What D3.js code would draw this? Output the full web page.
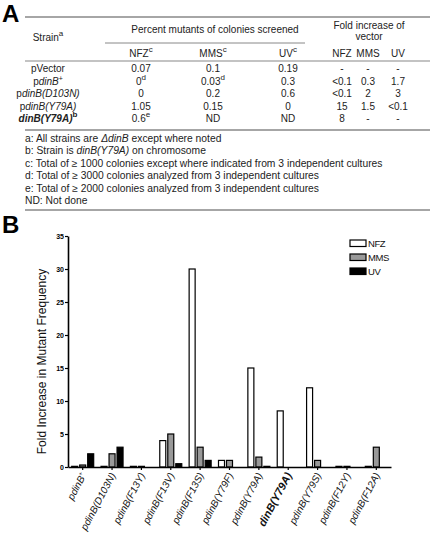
<!DOCTYPE html>
<html>
<head>
<meta charset="utf-8">
<script src="https://cdn.jsdelivr.net/npm/d3@7/dist/d3.min.js"></script>
<style>
  html, body { margin: 0; padding: 0; background: #fff; }
  svg { display: block; font-family: "Liberation Sans", Arial, Helvetica, sans-serif; }
</style>
</head>
<body>
<svg id="fig" width="430" height="539"></svg>
<script>
// ---------- Panel A data ----------
const tableStrains = ["pVector", "pdinB+", "pdinB(D103N)", "pdinB(Y79A)", "dinB(Y79A)"];
const tableStrainNotes = ["", "", "", "", "b"];
const pctNFZ = ["0.07", "0", "0", "1.05", "0.6"];
const pctNFZNotes = ["", "d", "", "", "e"];
const pctMMS = ["0.1", "0.03", "0.2", "0.15", "ND"];
const pctMMSNotes = ["", "d", "", "", ""];
const pctUV = ["0.19", "0.3", "0.6", "0", "ND"];
const foldNFZ = ["-", "<0.1", "<0.1", "15", "8"];
const foldMMS = ["-", "0.3", "2", "1.5", "-"];
const foldUV = ["-", "1.7", "3", "<0.1", "-"];
const footnotes = [
  "a: All strains are \u0394dinB except where noted",
  "b: Strain is dinB(Y79A) on chromosome",
  "c: Total of \u2265 1000 colonies except where indicated from 3 independent cultures",
  "d: Total of \u2265 3000 colonies analyzed from 3 independent cultures",
  "e: Total of \u2265 2000 colonies analyzed from 3 independent cultures",
  "ND: Not done"
];

// ---------- Panel B data ----------
const categories = ["pdinB+", "pdinB(D103N)", "pdinB(F13Y)", "pdinB(F13V)", "pdinB(F13S)",
  "pdinB(Y79F)", "pdinB(Y79A)", "dinB(Y79A)", "pdinB(Y79S)", "pdinB(F12Y)", "pdinB(F12A)"];
const seriesNames = ["NFZ", "MMS", "UV"];
const nfzValues = [0.1, 0.1, 0.1, 4, 30, 1, 15, 8.5, 12, 0.1, 0.1];
const mmsValues = [0.3, 2, 0.1, 5, 3, 1, 1.5, 0, 1, 0.1, 3];
const uvValues  = [2, 3, 0, 0.5, 1, 0, 0.1, 0, 0, 0, 0];
const yTicks = [0, 5, 10, 15, 20, 25, 30, 35];
const yTitle = "Fold Increase in Mutant Frequency";

const svg = d3.select("#fig");

// ---------- helpers ----------
function strainPieces(name, allItalic) {
  const pieces = [];
  let rest = name;
  let sup = "";
  if (rest.endsWith("+")) { sup = "+"; rest = rest.slice(0, -1); }
  if (rest.startsWith("pdinB")) {
    pieces.push({t: "p", it: allItalic});
    pieces.push({t: rest.slice(1), it: true});
  } else if (rest.startsWith("dinB")) {
    pieces.push({t: rest, it: true});
  } else {
    pieces.push({t: rest, it: allItalic});
  }
  if (sup) pieces.push({t: sup, it: allItalic, sup: true});
  return pieces;
}
function addPieces(textSel, pieces, supSize) {
  let wasSup = false;
  pieces.forEach(p => {
    const ts = textSel.append("tspan").text(p.t);
    if (p.it) ts.attr("font-style", "italic");
    if (p.sup) {
      ts.attr("font-size", supSize).attr("dy", -4); wasSup = true;
    } else if (wasSup) {
      ts.attr("dy", 4); wasSup = false;
    }
  });
}
function supText(g, x, y, main, note, opts) {
  opts = opts || {};
  const t = g.append("text").attr("x", x).attr("y", y)
    .attr("text-anchor", opts.anchor || "middle")
    .attr("font-size", opts.size || 10).attr("fill", "#222");
  if (opts.bold) t.attr("font-weight", "bold");
  if (opts.pieces) addPieces(t, opts.pieces, 7);
  else t.append("tspan").text(main);
  if (note) t.append("tspan").attr("font-size", 8).attr("dy", -5).text(note);
  return t;
}

// ---------- Panel A ----------
const gA = svg.append("g");
gA.append("text").attr("x", 2).attr("y", 22).attr("font-size", 24).attr("font-weight", "bold").text("A");

const lineColor = "#888";
const hline = (x1, x2, y, w) => gA.append("line").attr("x1", x1).attr("x2", x2)
  .attr("y1", y).attr("y2", y).attr("stroke", lineColor).attr("stroke-width", w || 1.2);

const colX = {strain: 48, pNFZ: 141, pMMS: 213, pUV: 288, fNFZ: 342, fMMS: 368, fUV: 398};
hline(25, 430, 17, 1.4);
supText(gA, colX.strain, 41, "Strain", "a");
supText(gA, 215, 33, "Percent mutants of colonies screened", "");
supText(gA, 369, 29, "Fold increase of", "");
supText(gA, 369, 40, "vector", "");
hline(105, 305, 43, 1);
supText(gA, colX.pNFZ, 57, "NFZ", "c");
supText(gA, colX.pMMS, 57, "MMS", "c");
supText(gA, colX.pUV, 57, "UV", "c");
supText(gA, colX.fNFZ, 57, "NFZ", "");
supText(gA, colX.fMMS, 57, "MMS", "");
supText(gA, colX.fUV, 57, "UV", "");
hline(25, 430, 61, 1.2);

const rowY = d3.scalePoint().domain(d3.range(tableStrains.length)).range([72, 122]);
tableStrains.forEach((s, i) => {
  const y = rowY(i);
  const bold = s.startsWith("dinB");
  supText(gA, colX.strain, y, s, tableStrainNotes[i], {pieces: strainPieces(s, false), bold: bold});
  supText(gA, colX.pNFZ, y, pctNFZ[i], pctNFZNotes[i]);
  supText(gA, colX.pMMS, y, pctMMS[i], pctMMSNotes[i]);
  supText(gA, colX.pUV, y, pctUV[i], "");
  supText(gA, colX.fNFZ, y, foldNFZ[i], "");
  supText(gA, colX.fMMS, y, foldMMS[i], "");
  supText(gA, colX.fUV, y, foldUV[i], "");
});
hline(25, 430, 130, 1.4);

const noteY = d3.scalePoint().domain(d3.range(footnotes.length)).range([142, 204]);
footnotes.forEach((f, i) => {
  const t = gA.append("text").attr("x", 25).attr("y", noteY(i)).attr("font-size", 10.3).attr("fill", "#222");
  const parts = f.split(/(\u0394?dinB\([^)]*\)|\u0394?dinB)/);
  parts.forEach(p => {
    if (!p) return;
    const ts = t.append("tspan").text(p);
    if (/dinB/.test(p)) ts.attr("font-style", "italic");
  });
});
hline(25, 430, 210, 1.4);

// ---------- Panel B ----------
const gB = svg.append("g");
gB.append("text").attr("x", 2).attr("y", 233).attr("font-size", 24).attr("font-weight", "bold").text("B");

const x0 = 68, x1 = 391, yBase = 467, yTop = 236;
const x = d3.scaleBand().domain(categories).range([x0, x1]).padding(0);
const xs = d3.scalePoint().domain(seriesNames).range([-8, 8]);
const y = d3.scaleLinear().domain([0, 35]).range([yBase, yTop]);
const fills = {NFZ: "#ffffff", MMS: "#999999", UV: "#000000"};
const barW = 6;

const series = [nfzValues, mmsValues, uvValues];
const barData = [];
categories.forEach((c, i) => {
  seriesNames.forEach((s, j) => barData.push({c, s, v: series[j][i]}));
});
gB.selectAll("rect.bar").data(barData.filter(d => d.v > 0)).join("rect")
  .attr("class", "bar")
  .attr("x", d => x(d.c) + x.bandwidth() / 2 + xs(d.s) - barW / 2)
  .attr("y", d => y(d.v))
  .attr("width", barW)
  .attr("height", d => y(0) - y(d.v))
  .attr("fill", d => fills[d.s])
  .attr("stroke", "#000")
  .attr("stroke-width", 1.2);

// y axis
const yAxis = d3.axisLeft(y).tickValues(yTicks).tickSize(3).tickPadding(1).tickSizeOuter(0);
const gy = gB.append("g").attr("transform", `translate(${x0},0)`).call(yAxis);
gy.select(".domain").attr("stroke-width", 1.6);
gy.selectAll(".tick line").attr("stroke-width", 1.2);
gy.selectAll(".tick text").attr("font-size", 7).attr("font-weight", "bold")
  .attr("font-family", "Liberation Sans, Arial, sans-serif").attr("fill", "#000");

// x axis
const xAxis = d3.axisBottom(x).tickSize(3).tickSizeOuter(0).tickFormat("");
const gx = gB.append("g").attr("transform", `translate(0,${yBase})`).call(xAxis);
gx.select(".domain").attr("stroke-width", 1.6);
gx.selectAll(".tick line").attr("stroke-width", 1.2);

categories.forEach(c => {
  const cx = x(c) + x.bandwidth() / 2;
  const bold = c.startsWith("dinB");
  const t = gB.append("text")
    .attr("transform", `translate(${cx + 4},${yBase + 8}) rotate(-62)`)
    .attr("text-anchor", "end")
    .attr("font-size", bold ? 11 : 10)
    .attr("font-weight", bold ? "bold" : null)
    .attr("fill", "#111");
  addPieces(t, strainPieces(c, true), 6);
});

// y title
gB.append("text")
  .attr("transform", `translate(46,${(yBase + yTop) / 2 + 10}) rotate(-90)`)
  .attr("text-anchor", "middle").attr("font-size", 12).attr("fill", "#111")
  .text(yTitle);

// legend
const leg = gB.append("g").attr("transform", "translate(350,240)");
seriesNames.forEach((s, i) => {
  const g = leg.append("g").attr("transform", `translate(0,${i * 14})`);
  g.append("rect").attr("x", 0).attr("y", 0).attr("width", 16).attr("height", 6.5)
    .attr("fill", fills[s]).attr("stroke", "#000").attr("stroke-width", 1.2);
  g.append("text").attr("x", 18).attr("y", 7).attr("font-size", 9.5)
    .attr("font-family", "'Liberation Sans Narrow', 'Arial Narrow', 'Liberation Sans', sans-serif")
    .attr("letter-spacing", -0.4).attr("fill", "#111").text(s);
});
</script>
</body>
</html>
